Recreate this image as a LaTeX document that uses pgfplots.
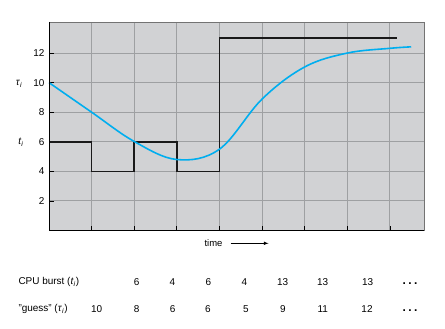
\documentclass[border=0pt]{standalone}
\usepackage{pgfplots}
\pgfplotsset{compat=1.18}
\usepackage{fontspec}
\setmainfont{Liberation Sans}
\definecolor{bgg}{RGB}{209,210,212}
\definecolor{gridg}{RGB}{158,160,162}
\definecolor{curve}{RGB}{0,174,239}
\begin{document}
\begin{tikzpicture}[x=1bp,y=1bp]
\path[use as bounding box] (0,0) rectangle (445,328);
\begin{axis}[
  at={(49bp,97.5bp)}, anchor=south west,
  scale only axis, width=375bp, height=208.5bp,
  xmin=0, xmax=8.8, ymin=0, ymax=14.1,
  xtick={1,...,8}, xticklabels={},
  ytick={2,4,6,8,10,12},
  xtick pos=bottom, ytick pos=left,
  tick align=inside,
  major tick length=5bp,
  tick style={black, line width=0.8pt},
  grid=major,
  major grid style={gridg, line width=1pt},
  axis background/.style={fill=bgg},
  axis line style={draw=black!55, line width=0.9pt},
  ticklabel style={font=\fontsize{10}{12}\selectfont},
  /pgf/number format/assume math mode=true,
  yticklabel style={xshift=-1bp},
  clip=false,
]
\addplot[const plot, black!90, line width=1.7pt, mark=none]
  coordinates {(0,6)(1,4)(2,6)(3,4)(4,13)(8.16,13)};
\addplot[smooth, tension=0.6, curve, line width=1.6pt, mark=none] coordinates {
 (0,10)(1,8)(2,6.02)(3,4.8)(4,5.5)(5,8.89)(6,11.06)(7,12.0)(8,12.32)(8.5,12.42)};
\draw[black, line width=1pt] (rel axis cs:0,1) -- (rel axis cs:0,0) -- (rel axis cs:1,0);
\end{axis}
\node[font=\fontsize{10}{12}\selectfont] at (19,328-84) {\textit{τ}\textsubscript{\textit{i}}};
\node[font=\fontsize{10}{12}\selectfont] at (21,328-142) {\textit{t}\textsubscript{\textit{i}}};
\node[font=\fontsize{9.5}{12}\selectfont, anchor=east] at (226,328-243.3) {time};
\draw[-latex, black, line width=0.6pt] (230.5,328-243.3) -- (268.5,328-243.3);
\begin{scope}[every node/.style={font=\fontsize{10}{12}\selectfont}]
\node[anchor=west] at (15,328-282.3) {CPU burst (\textit{t}\textsubscript{\textit{i}})};
\node[anchor=west] at (15,328-309.3) {"guess" (\textit{τ}\textsubscript{\textit{i}})};
\foreach \x/\v in {136.7/6,172.3/4,208.3/6,244.3/4,282.7/13,322.7/13,367.7/13}
  \node at (\x,328-282.3) {\v};
\foreach \x/\v in {96.7/10,136.7/8,172.7/6,208/6,246/5,283/9,322.7/11,367/12}
  \node at (\x,328-309.3) {\v};
\node[font=\fontsize{12}{12}\selectfont\bfseries] at (410,328-283.5) {.\hspace{2.5bp}.\hspace{2.5bp}.};
\node[font=\fontsize{12}{12}\selectfont\bfseries] at (410,328-310.5) {.\hspace{2.5bp}.\hspace{2.5bp}.};
\end{scope}
\end{tikzpicture}
\end{document}
